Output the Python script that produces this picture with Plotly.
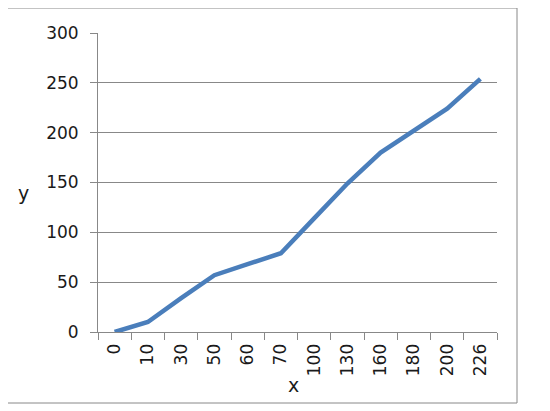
import plotly.graph_objects as go

x_labels = ["0", "10", "30", "50", "60", "70", "100", "130", "160", "180", "200", "226"]
y_values = [0, 10, 34, 57, 68, 79, 114, 149, 180, 202, 224, 254]
y_ticks = [0, 50, 100, 150, 200, 250, 300]

FONT = "DejaVu Sans"
GRID = "#888888"
TXT = "#1a1a1a"

# page offset (body margin) compensation
OFF = 8
W, H = 550 - OFF, 411 - OFF
L, R, T, B = 98, 497, 33, 332  # plot area in page pixels
PW, PH = R - L, B - T

def px(xp):
    return (xp - L) / PW

def py(yp):
    return (B - yp) / PH

fig = go.Figure()
fig.add_trace(go.Scatter(
    x=x_labels, y=y_values, mode="lines",
    line=dict(color="#4a7ebb", width=4.5),
    showlegend=False, hoverinfo="x+y",
))

fig.update_layout(
    width=W, height=H,
    margin=dict(l=L - OFF, r=W - (R - OFF), t=T - OFF, b=H - (B - OFF)),
    paper_bgcolor="white", plot_bgcolor="white",
    font=dict(family=FONT, size=17, color=TXT),
    xaxis=dict(
        type="category", range=[-0.5, 11.5],
        tickangle=-90, tickson="boundaries",
        ticks="outside", ticklen=7, tickcolor=GRID, tickwidth=1,
        showline=True, linecolor=GRID, linewidth=1,
        showgrid=False, zeroline=False, ticklabelstandoff=4,
        tickfont=dict(family=FONT, size=17, color=TXT),
    ),
    yaxis=dict(
        range=[0, 300], tickvals=y_ticks,
        ticks="outside", ticklen=7, tickcolor=GRID, tickwidth=1,
        showline=True, linecolor=GRID, linewidth=1,
        showgrid=True, gridcolor=GRID, gridwidth=1,
        zeroline=False, ticklabelstandoff=8,
        tickfont=dict(family=FONT, size=17, color=TXT),
    ),
    shapes=[dict(
        type="rect", xref="paper", yref="paper",
        x0=px(5), x1=px(517), y0=py(403), y1=py(8),
        line=dict(color=GRID, width=1), fillcolor="rgba(0,0,0,0)", layer="below",
    )],
    annotations=[
        dict(text="y", xref="paper", yref="paper", x=px(23), y=py(193),
             showarrow=False, font=dict(family=FONT, size=19, color=TXT),
             xanchor="center", yanchor="middle"),
        dict(text="x", xref="paper", yref="paper", x=px(293), y=py(385),
             showarrow=False, font=dict(family=FONT, size=19, color=TXT),
             xanchor="center", yanchor="middle"),
    ],
)

fig.write_html("out.html")
